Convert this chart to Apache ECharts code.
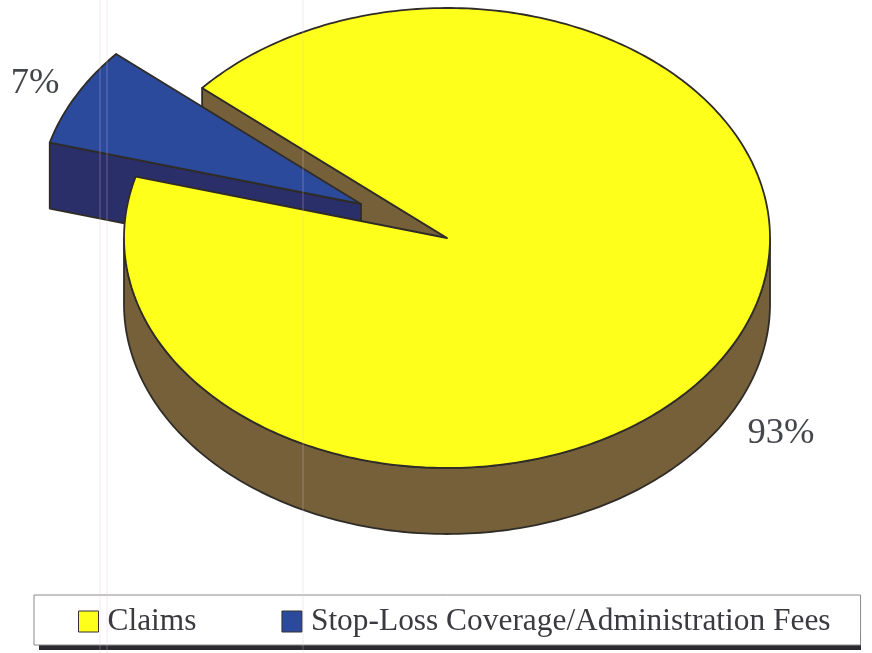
<!DOCTYPE html>
<html><head><meta charset="utf-8">
<style>html,body{margin:0;padding:0;background:#fff}#c{width:872px;height:653px}</style>
<script src="https://cdn.jsdelivr.net/npm/echarts@6/dist/echarts.min.js"></script>
</head><body><div id="c"></div>
<script>
const categories = ['Claims', 'Stop-Loss Coverage/Administration Fees'];
const sharePercent = [93, 7];
const sliceColors = ['#ffff1c', '#2b4a9c'];
const wallColors = ['#75603a', '#2b2f69'];
const labelAnchors = [[781, 433], [35, 83]];

const total = sharePercent.reduce((a, b) => a + b, 0);
const CX = 447, CY = 238, RX = 323, RY = 230, DEPTH = 66;
const START = 220.7;
const EXPLODE = [[0, 0], [-86, -34]];
const OUTLINE = { stroke: '#2f2c28', lineWidth: 1.8, lineJoin: 'round' };

function angleRange(idx) {
  let a = START;
  for (let i = 0; i < idx; i++) a += sharePercent[i] / total * 360;
  return [a, a + sharePercent[idx] / total * 360];
}
function pt(deg, ox, oy, dz) {
  const r = deg * Math.PI / 180;
  return [CX + ox + RX * Math.cos(r), CY + oy + dz + RY * Math.sin(r)];
}
function arc(a0, a1, ox, oy, dz) {
  const n = Math.max(2, Math.ceil(Math.abs(a1 - a0)));
  const out = [];
  for (let i = 0; i <= n; i++) out.push(pt(a0 + (a1 - a0) * i / n, ox, oy, dz));
  return out;
}
function poly(points, fill, z2) {
  return { type: 'polygon', z2, shape: { points }, style: Object.assign({ fill }, OUTLINE) };
}
function renderSlice(idx) {
  return function (params, api) {
    const value = api.value(0);
    const [a0, a1] = angleRange(idx);
    const [ox, oy] = EXPLODE[idx];
    const apex = [CX + ox, CY + oy];
    const apexLow = [apex[0], apex[1] + DEPTH];
    const children = [];
    const z = idx === 0 ? { back: 1, outer: 6, top: 7 } : { back: 3, outer: 3, top: 4 };
    const s = pt(a0, ox, oy, 0), sl = pt(a0, ox, oy, DEPTH);
    children.push(poly([s, apex, apexLow, sl], wallColors[idx], z.back));
    if (idx === 0) {
      const rim = arc(0, 180, ox, oy, 0).concat(arc(180, 0, ox, oy, DEPTH));
      children.push(poly(rim, wallColors[idx], z.outer));
    }
    children.push(poly([apex].concat(arc(a0, a1, ox, oy, 0)), sliceColors[idx], z.top));
    children.push({
      type: 'text', z2: 9,
      style: {
        x: labelAnchors[idx][0], y: labelAnchors[idx][1],
        text: value + '%', fill: '#44464c',
        font: '36.5px "Liberation Serif"', align: 'center', verticalAlign: 'middle'
      }
    });
    return { type: 'group', children };
  };
}

const chart = echarts.init(document.getElementById('c'), null, { renderer: 'canvas' });
chart.setOption({
  animation: false,
  backgroundColor: '#ffffff',
  legend: {
    left: 34, top: 595, z: 5,
    padding: [11, 30, 8, 44],
    itemWidth: 20, itemHeight: 21, itemGap: 85,
    icon: 'rect',
    backgroundColor: '#ffffff',
    borderColor: '#8a8a8a', borderWidth: 1,
    itemStyle: { borderColor: '#333', borderWidth: 1 },
    textStyle: { fontFamily: 'Liberation Serif', fontSize: 31.4, color: '#3a3a40', padding: [0, 0, 0, 4] },
    selectedMode: false,
    data: categories
  },
  graphic: [
    { type: 'rect', z: 1, silent: true, shape: { x: 39, y: 635, width: 822, height: 15 }, style: { fill: '#2a2a30' } }
  ].concat([100, 107, 303].map(x => ({
    type: 'line', z: 50, silent: true,
    shape: { x1: x, y1: 0, x2: x, y2: 653 },
    style: { stroke: '#e8b8d8', lineWidth: 1, opacity: 0.35 }
  }))),
  series: categories.map((name, i) => ({
    type: 'custom', name,
    coordinateSystem: 'none',
    silent: true,
    itemStyle: { color: sliceColors[i] },
    data: [[sharePercent[i]]],
    renderItem: renderSlice(i)
  }))
});
</script></body></html>
